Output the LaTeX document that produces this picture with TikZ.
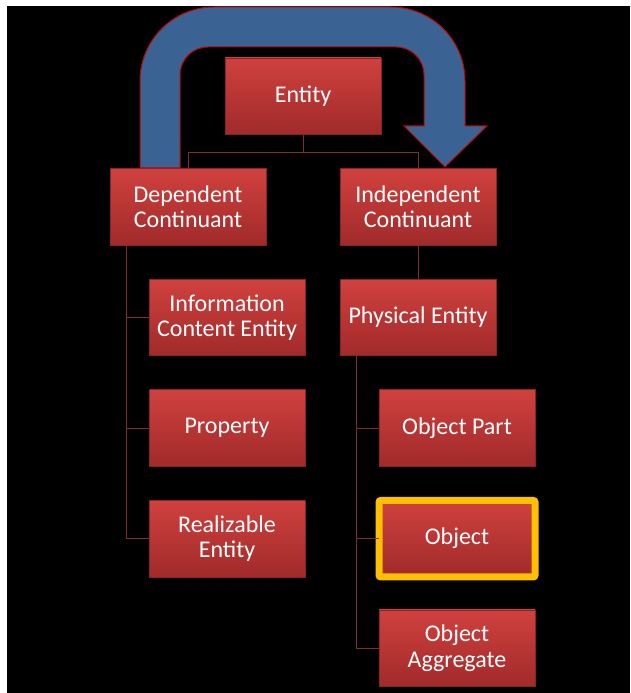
\documentclass[tikz,border=0pt]{standalone}
\usepackage{fontspec}
\setmainfont{Carlito}
\usepackage{xcolor}
\usetikzlibrary{positioning,calc}

\definecolor{boxtop}{HTML}{D0413E}
\definecolor{boxbot}{HTML}{A02A2A}
\definecolor{boxedge}{HTML}{8A2424}
\definecolor{linkred}{HTML}{7E2C2C}
\definecolor{bendblue}{HTML}{3A6394}
\definecolor{bendedge}{HTML}{C00000}
\definecolor{gold}{HTML}{FFC000}

\begin{document}
\begin{tikzpicture}[
    x=1pt,y=1pt,
    node distance=34pt and 0pt,
    box/.style={rectangle,draw=boxedge,line width=0.8pt,top color=boxtop,bottom color=boxbot,
                minimum width=156pt,minimum height=76.6pt,inner sep=2pt,outer sep=0pt,
                text=white,align=center,font=\fontsize{24}{25.5}\selectfont},
    pick/.style={box,draw=gold,line width=7pt,rounded corners=2pt},
    link/.style={draw=linkred,line width=1pt}
]
% frame
\fill[white] (0,0) rectangle (630,693);
\fill[black] (7,0) rectangle (630,687);

% bent arrow
\filldraw[fill=bendblue,draw=bendedge,line width=1pt]
    (140,525) [rounded corners=74pt] -- (140,686) -- (465,686)
    [sharp corners] -- (465,567) -- (487,567) -- (445,526) -- (404,567) -- (424,567)
    [rounded corners=28pt] -- (424,646) -- (180,646)
    [sharp corners] -- (180,525) -- cycle;

% top
\node[box] (entity) at (303,596.7) {Entity};
\node[box,below=of entity,xshift=-115pt] (dep) {Dependent\\Continuant};
\node[box,below=of entity,xshift=115pt] (indep) {Independent\\Continuant};

% dependent side
\node[box,below=of dep,xshift=39pt] (info) {Information\\Content Entity};
\node[box,below=of info] (prop) {Property};
\node[box,below=of prop] (real) {Realizable\\Entity};

% independent side
\node[box,below=of indep] (phys) {Physical Entity};
\node[box,below=of phys,xshift=39pt] (part) {Object Part};
\node[pick,below=of part] (obj) {Object};
\node[box,below=33pt of obj] (aggr) {Object\\Aggregate};

\draw[link] (entity.south) -- ++(0,-18) -| (dep.north);
\draw[link] (entity.south) -- ++(0,-18) -| (indep.north);
\foreach \k in {info,prop,real}
  \draw[link] ([xshift=16pt]dep.south west) |- (\k.west);
\draw[link] (indep) -- (phys);
\foreach \k in {part,obj,aggr}
  \draw[link] ([xshift=16pt]phys.south west) |- (\k.west);
\end{tikzpicture}
\end{document}
